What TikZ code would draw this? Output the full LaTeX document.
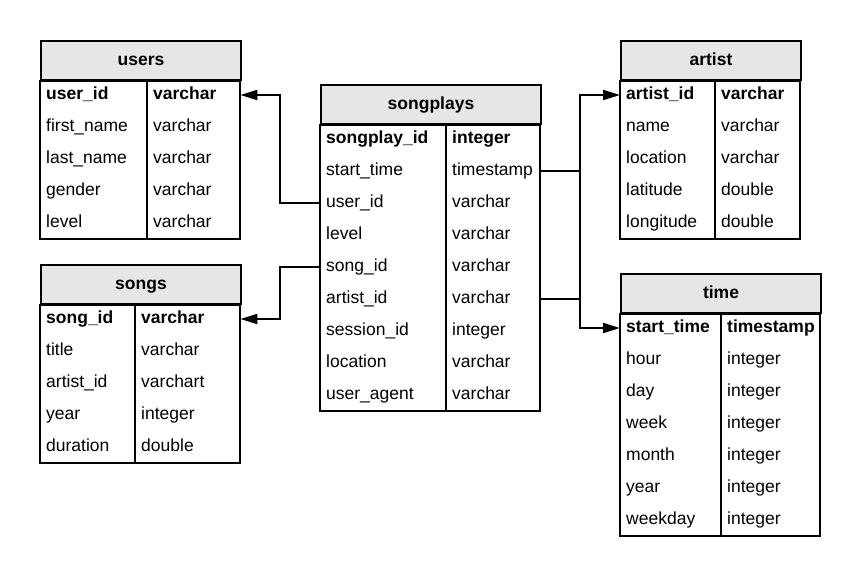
\documentclass[tikz,border=0pt]{standalone}
\usepackage{fontspec}
\setmainfont{Liberation Sans}
\usetikzlibrary{arrows.meta}
\definecolor{headgray}{RGB}{230,230,230}
\newcommand\tblfont{\fontsize{17.5}{21}\selectfont}
\tikzset{
  tbl/.style={line width=2pt},
  head/.style={draw, fill=headgray, line width=2pt, anchor=north west,
    minimum height=39pt, inner sep=0pt, text height=13pt, text depth=4pt,
    font={\tblfont\bfseries}},
  cell/.style={anchor=west, align=left, inner xsep=6pt, inner ysep=0pt,
    minimum height=32pt, text height=13pt, text depth=4pt, font=\tblfont},
  link/.style={line width=2pt, -{Triangle[length=17pt,width=10pt]}}
}
\begin{document}
\begin{tikzpicture}[x=1pt,y=-1pt]
        \useasboundingbox (0,0) rectangle (860,576);
        % users
        \begin{scope}[shift={(40,40)}]
                \node[head, minimum width=200pt] (users) at (0,0) {users};
                \foreach \n/\t [count=\i] in {\textbf{user\_id}/\textbf{varchar},
                  first\_name/varchar, last\_name/varchar, gender/varchar, level/varchar}
                {
                  \node[cell, text width=95pt] (users-\i) at (0,{23+32*\i}) {\n};
                  \node[cell, text width=81pt] (users-\i t) at (107,{23+32*\i}) {\t};
                }
        \end{scope}
        \draw[tbl] (users.south west) rectangle (users-5t.south east);
        \draw[tbl] (users-1t.north west) -- (users-5t.south west);
        % songs
        \begin{scope}[shift={(40,264)}]
                \node[head, minimum width=200pt] (songs) at (0,0) {songs};
                \foreach \n/\t [count=\i] in {\textbf{song\_id}/\textbf{varchar},
                  title/varchar, artist\_id/varchart, year/integer, duration/double}
                {
                  \node[cell, text width=83pt] (songs-\i) at (0,{23+32*\i}) {\n};
                  \node[cell, text width=93pt] (songs-\i t) at (95,{23+32*\i}) {\t};
                }
        \end{scope}
        \draw[tbl] (songs.south west) rectangle (songs-5t.south east);
        \draw[tbl] (songs-1t.north west) -- (songs-5t.south west);
        % songplays
        \begin{scope}[shift={(320,84)}]
                \node[head, minimum width=220pt] (sp) at (0,0) {songplays};
                \foreach \n/\t [count=\i] in {\textbf{songplay\_id}/\textbf{integer},
                  start\_time/timestamp, user\_id/varchar, level/varchar,
                  song\_id/varchar, artist\_id/varchar, session\_id/integer,
                  location/varchar, user\_agent/varchar}
                {
                  \node[cell, text width=114pt] (sp-\i) at (0,{23+32*\i}) {\n};
                  \node[cell, text width=82pt] (sp-\i t) at (126,{23+32*\i}) {\t};
                }
        \end{scope}
        \draw[tbl] (sp.south west) rectangle (sp-9t.south east);
        \draw[tbl] (sp-1t.north west) -- (sp-9t.south west);
        % artist
        \begin{scope}[shift={(620,40)}]
                \node[head, minimum width=180pt] (artist) at (0,0) {artist};
                \foreach \n/\t [count=\i] in {\textbf{artist\_id}/\textbf{varchar},
                  name/varchar, location/varchar, latitude/double, longitude/double}
                {
                  \node[cell, text width=83pt] (artist-\i) at (0,{23+32*\i}) {\n};
                  \node[cell, text width=73pt] (artist-\i t) at (95,{23+32*\i}) {\t};
                }
        \end{scope}
        \draw[tbl] (artist.south west) rectangle (artist-5t.south east);
        \draw[tbl] (artist-1t.north west) -- (artist-5t.south west);
        % time
        \begin{scope}[shift={(620,273)}]
                \node[head, minimum width=200pt] (time) at (0,0) {time};
                \foreach \n/\t [count=\i] in {\textbf{start\_time}/\textbf{timestamp},
                  hour/integer, day/integer, week/integer, month/integer,
                  year/integer, weekday/integer}
                {
                  \node[cell, text width=89pt] (time-\i) at (0,{23+32*\i}) {\n};
                  \node[cell, text width=87pt] (time-\i t) at (101,{23+32*\i}) {\t};
                }
        \end{scope}
        \draw[tbl] (time.south west) rectangle (time-7t.south east);
        \draw[tbl] (time-1t.north west) -- (time-7t.south west);
        % links
        \draw[link] (sp-3.west) -- ++(-40,0) |- (users-1t.east);
        \draw[link] (sp-5.west) -- ++(-40,0) |- (songs-1t.east);
        \draw[link] (sp-6t.east) -- ++(40,0) |- (artist-1.west);
        \draw[link] (sp-2t.east) -- ++(40,0) |- (time-1.west);
\end{tikzpicture}
\end{document}
